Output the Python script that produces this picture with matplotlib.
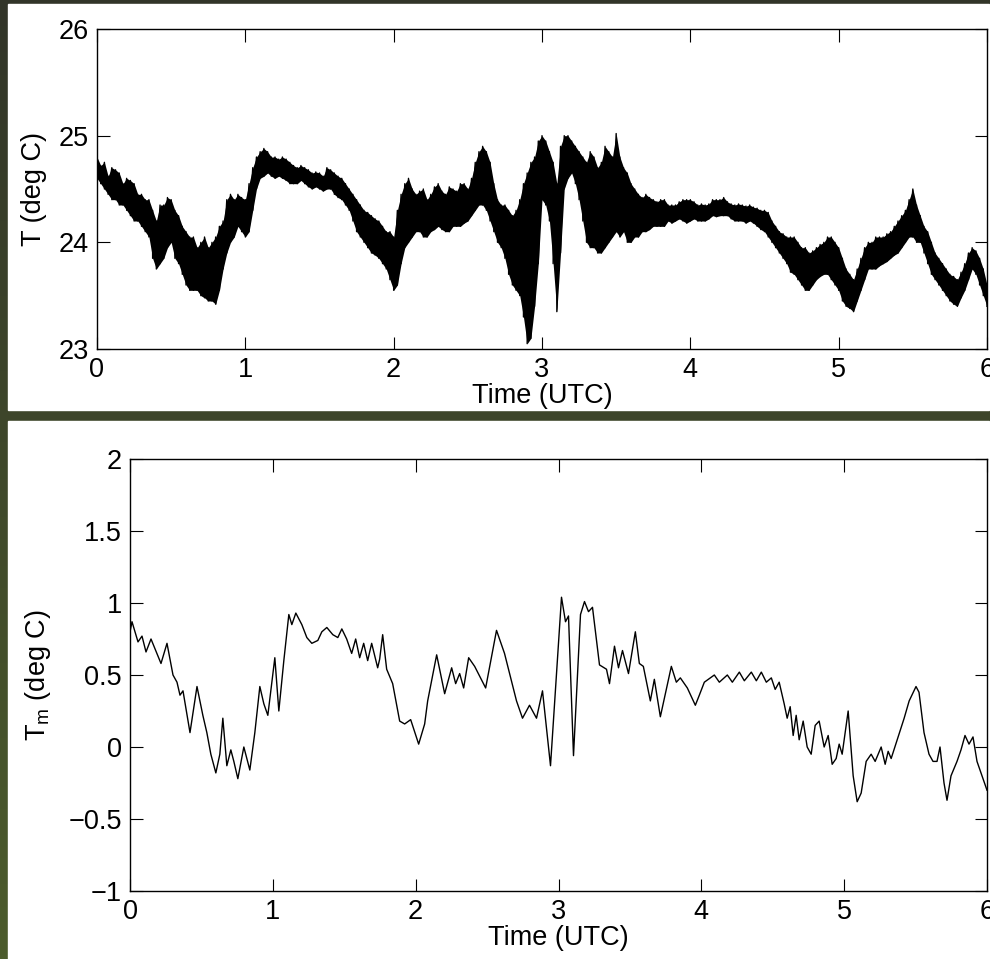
"""
两段温度时间序列：上图为原始温度（高频噪声带），下图为平滑后的 T_m
"""
import numpy as np
import matplotlib
matplotlib.use('Agg')
import matplotlib.pyplot as plt
from matplotlib.patches import Rectangle

plt.rcParams['font.family'] = ['Liberation Sans', 'DejaVu Sans']

# ---- 上图数据：噪声带下沿/上沿 (deg C)，整0.05小时处读取 ----
t_raw = np.linspace(0, 6, 121)
T_lo = [24.60, 24.50, 24.40, 24.35, 24.30, 24.20, 24.15, 24.05, 23.75, 23.85,
        24.00, 23.80, 23.60, 23.55, 23.50, 23.45, 23.42, 23.75, 24.00, 24.15,
        24.05, 24.30, 24.60, 24.65, 24.60, 24.60, 24.55, 24.55, 24.55, 24.50,
        24.50, 24.50, 24.45, 24.40, 24.30, 24.10, 24.00, 23.90, 23.85, 23.75,
        23.55, 23.80, 24.00, 24.10, 24.05, 24.10, 24.15, 24.10, 24.15, 24.15,
        24.20, 24.30, 24.35, 24.20, 24.00, 23.85, 23.60, 23.50, 23.05, 23.40,
        24.40, 24.20, 23.35, 24.50, 24.65, 24.40, 24.00, 23.95, 23.90, 24.00,
        24.10, 24.10, 24.00, 24.05, 24.10, 24.15, 24.15, 24.20, 24.20, 24.20,
        24.20, 24.20, 24.20, 24.25, 24.25, 24.25, 24.20, 24.20, 24.20, 24.15,
        24.10, 24.00, 23.90, 23.80, 23.70, 23.60, 23.55, 23.65, 23.70, 23.65,
        23.55, 23.40, 23.35, 23.55, 23.75, 23.75, 23.80, 23.85, 23.90, 24.00,
        24.05, 24.00, 23.80, 23.65, 23.55, 23.45, 23.40, 23.55, 23.75, 23.60,
        23.40]
T_hi = [24.80, 24.75, 24.70, 24.65, 24.60, 24.55, 24.45, 24.40, 24.20, 24.35,
        24.40, 24.25, 24.10, 24.05, 24.00, 23.95, 24.05, 24.20, 24.45, 24.45,
        24.40, 24.70, 24.85, 24.85, 24.80, 24.80, 24.75, 24.70, 24.70, 24.65,
        24.65, 24.70, 24.65, 24.60, 24.50, 24.40, 24.30, 24.25, 24.20, 24.10,
        24.05, 24.45, 24.60, 24.45, 24.50, 24.45, 24.55, 24.45, 24.50, 24.55,
        24.50, 24.75, 24.90, 24.75, 24.40, 24.35, 24.25, 24.40, 24.65, 24.80,
        25.00, 24.85, 24.55, 25.00, 24.95, 24.85, 24.75, 24.80, 24.75, 24.85,
        25.02, 24.70, 24.55, 24.45, 24.45, 24.40, 24.40, 24.35, 24.35, 24.40,
        24.40, 24.35, 24.35, 24.40, 24.40, 24.38, 24.35, 24.35, 24.35, 24.32,
        24.30, 24.20, 24.10, 24.05, 24.05, 23.95, 23.90, 23.95, 24.00, 24.05,
        23.95, 23.75, 23.65, 23.85, 24.00, 24.05, 24.05, 24.10, 24.20, 24.30,
        24.50, 24.25, 24.10, 23.90, 23.80, 23.70, 23.65, 23.80, 23.95, 23.85,
        23.60]
# 半格处 (0.025, 0.075, ...) 读取
t_mid = np.linspace(0.025, 5.975, 120)
T_lo_mid = [24.55, 24.45, 24.40, 24.35, 24.25, 24.20, 24.10, 23.85, 23.80, 23.95,
            23.85, 23.70, 23.55, 23.55, 23.48, 23.45, 23.55, 23.90, 24.05, 24.10,
            24.10, 24.50, 24.62, 24.62, 24.62, 24.58, 24.55, 24.58, 24.52, 24.52,
            24.48, 24.50, 24.42, 24.35, 24.20, 24.05, 23.95, 23.88, 23.80, 23.65,
            23.60, 23.95, 24.05, 24.10, 24.05, 24.12, 24.12, 24.10, 24.15, 24.18,
            24.25, 24.35, 24.30, 24.10, 23.95, 23.70, 23.55, 23.30, 23.10, 23.80,
            24.35, 23.80, 23.90, 24.60, 24.55, 24.20, 23.95, 23.90, 23.95, 24.05,
            24.05, 24.00, 24.05, 24.10, 24.12, 24.15, 24.15, 24.18, 24.22, 24.18,
            24.22, 24.20, 24.22, 24.24, 24.25, 24.22, 24.20, 24.18, 24.18, 24.12,
            24.05, 23.95, 23.85, 23.72, 23.65, 23.55, 23.60, 23.68, 23.70, 23.60,
            23.45, 23.38, 23.45, 23.65, 23.75, 23.78, 23.82, 23.88, 23.95, 24.05,
            24.00, 23.90, 23.70, 23.60, 23.50, 23.42, 23.48, 23.65, 23.70, 23.50]
T_hi_mid = [24.72, 24.62, 24.68, 24.55, 24.58, 24.45, 24.40, 24.30, 24.35, 24.42,
            24.30, 24.15, 24.05, 23.95, 24.05, 24.00, 24.15, 24.40, 24.40, 24.42,
            24.55, 24.80, 24.88, 24.80, 24.78, 24.78, 24.72, 24.72, 24.68, 24.66,
            24.62, 24.68, 24.62, 24.55, 24.45, 24.35, 24.28, 24.22, 24.15, 24.10,
            24.30, 24.55, 24.50, 24.48, 24.40, 24.52, 24.48, 24.52, 24.48, 24.55,
            24.60, 24.85, 24.85, 24.55, 24.35, 24.30, 24.30, 24.55, 24.75, 24.95,
            24.95, 24.75, 24.90, 25.00, 24.90, 24.80, 24.85, 24.70, 24.90, 24.80,
            24.80, 24.65, 24.50, 24.42, 24.42, 24.38, 24.40, 24.35, 24.38, 24.40,
            24.38, 24.36, 24.36, 24.40, 24.42, 24.36, 24.36, 24.34, 24.33, 24.30,
            24.28, 24.15, 24.08, 24.05, 24.00, 23.95, 23.92, 23.98, 24.05, 24.00,
            23.85, 23.70, 23.75, 23.95, 24.00, 24.05, 24.08, 24.15, 24.25, 24.40,
            24.35, 24.15, 24.00, 23.85, 23.75, 23.68, 23.72, 23.90, 23.92, 23.75]

# ---- 下图数据：T_m (deg C) ----
t_m = [0.000, 0.014, 0.056, 0.084, 0.112, 0.147, 0.217, 0.259, 0.301, 0.329,
       0.350, 0.371, 0.420, 0.469, 0.510, 0.538, 0.566, 0.601, 0.629, 0.650,
       0.678, 0.706, 0.727, 0.755, 0.797, 0.839, 0.874, 0.909, 0.937, 0.965,
       1.014, 1.042, 1.077, 1.112, 1.133, 1.161, 1.203, 1.238, 1.273, 1.315,
       1.343, 1.378, 1.420, 1.455, 1.483, 1.517, 1.552, 1.580, 1.608, 1.636,
       1.664, 1.692, 1.734, 1.748, 1.769, 1.797, 1.839, 1.888, 1.923, 1.965,
       2.021, 2.063, 2.084, 2.147, 2.203, 2.252, 2.280, 2.308, 2.336, 2.371,
       2.413, 2.490, 2.566, 2.622, 2.706, 2.748, 2.797, 2.846, 2.888, 2.944,
       3.021, 3.049, 3.070, 3.105, 3.154, 3.182, 3.210, 3.238, 3.287, 3.336,
       3.357, 3.392, 3.420, 3.448, 3.490, 3.538, 3.566, 3.594, 3.643, 3.671,
       3.713, 3.790, 3.825, 3.853, 3.902, 3.958, 3.986, 4.021, 4.091, 4.126,
       4.182, 4.217, 4.266, 4.301, 4.350, 4.385, 4.420, 4.455, 4.490, 4.517,
       4.545, 4.580, 4.601, 4.622, 4.643, 4.664, 4.685, 4.713, 4.741, 4.769,
       4.797, 4.825, 4.860, 4.888, 4.916, 4.944, 4.965, 4.986, 5.028, 5.063,
       5.091, 5.119, 5.154, 5.189, 5.217, 5.259, 5.287, 5.308, 5.329, 5.371,
       5.420, 5.455, 5.503, 5.524, 5.559, 5.594, 5.622, 5.650, 5.671, 5.699,
       5.720, 5.748, 5.790, 5.818, 5.846, 5.874, 5.902, 5.930, 5.958, 6.000]
Tm = [0.80, 0.87, 0.73, 0.77, 0.66, 0.75, 0.58, 0.72, 0.50, 0.45,
      0.36, 0.39, 0.10, 0.42, 0.22, 0.10, -0.05, -0.18, -0.05, 0.20,
      -0.13, -0.02, -0.10, -0.22, 0.00, -0.16, 0.10, 0.42, 0.30, 0.22,
      0.62, 0.25, 0.60, 0.92, 0.85, 0.93, 0.85, 0.76, 0.72, 0.74,
      0.80, 0.83, 0.78, 0.76, 0.82, 0.75, 0.65, 0.75, 0.62, 0.72,
      0.60, 0.72, 0.55, 0.61, 0.78, 0.54, 0.44, 0.18, 0.16, 0.19,
      0.02, 0.16, 0.32, 0.64, 0.37, 0.55, 0.44, 0.51, 0.41, 0.62,
      0.56, 0.41, 0.81, 0.65, 0.32, 0.20, 0.29, 0.20, 0.39, -0.13,
      1.04, 0.87, 0.91, -0.06, 0.92, 1.01, 0.94, 0.97, 0.57, 0.54,
      0.44, 0.70, 0.55, 0.67, 0.51, 0.80, 0.58, 0.56, 0.32, 0.47,
      0.21, 0.56, 0.45, 0.48, 0.41, 0.29, 0.36, 0.45, 0.50, 0.45,
      0.50, 0.45, 0.52, 0.46, 0.52, 0.46, 0.52, 0.45, 0.48, 0.40,
      0.45, 0.30, 0.20, 0.28, 0.08, 0.22, 0.05, 0.18, 0.00, -0.05,
      0.15, 0.18, 0.00, 0.08, -0.12, -0.08, 0.02, -0.05, 0.25, -0.20,
      -0.38, -0.32, -0.10, -0.05, -0.10, 0.00, -0.12, -0.03, -0.08, 0.05,
      0.20, 0.32, 0.42, 0.38, 0.10, -0.05, -0.10, -0.10, 0.00, -0.25,
      -0.37, -0.20, -0.10, -0.02, 0.08, 0.02, 0.07, -0.10, -0.18, -0.30]

W, H = 990, 959
FS = 19.5

fig = plt.figure(figsize=(W / 100, H / 100), dpi=100)

# 背景：深色到橄榄绿的竖直渐变
bg = fig.add_axes([0, 0, 1, 1], zorder=-10)
top_c = np.array([0x32, 0x35, 0x29]) / 255
bot_c = np.array([0x4c, 0x5c, 0x2d]) / 255
grad = np.linspace(0, 1, 256)[:, None, None]
img = top_c * (1 - grad) + bot_c * grad
bg.imshow(img, aspect='auto', extent=[0, 1, 0, 1])
# 两块白色面板
bg.add_patch(Rectangle((8 / W, 1 - 410 / H), 981 / W, 406 / H, color='white'))
bg.add_patch(Rectangle((8 / W, 0), 981 / W, 1 - 421 / H, color='white'))
bg.set_xlim(0, 1)
bg.set_ylim(0, 1)
bg.axis('off')


def style_axes(ax):
    ax.tick_params(direction='in', length=9, width=0.8, top=True, right=True,
                   labelsize=FS, pad=6)
    for s in ax.spines.values():
        s.set_linewidth(1.0)
    ax.set_facecolor('white')


# 合并整格与半格读数
t_all = np.concatenate([t_raw, t_mid])
order = np.argsort(t_all)
t_all = t_all[order]
lo_all = np.concatenate([T_lo, T_lo_mid])[order]
hi_all = np.concatenate([T_hi, T_hi_mid])[order]

# 上图
ax1 = fig.add_axes([97 / W, 1 - 349 / H, 890 / W, 320 / H])
ax1.fill_between(t_all, lo_all, hi_all, color='black', lw=0)
zig_t = np.repeat(t_all, 2)
zig_T = np.column_stack([hi_all, lo_all]).ravel()
ax1.plot(zig_t, zig_T, color='black', lw=1.0)
ax1.set_xlim(0, 6)
ax1.set_ylim(23, 26)
ax1.set_yticks([23, 24, 25, 26])
ax1.set_xticks(range(7))
ax1.set_xlabel('Time (UTC)', fontsize=FS, labelpad=0)
ax1.set_ylabel('T (deg C)', fontsize=FS, labelpad=8)
style_axes(ax1)

# 下图
ax2 = fig.add_axes([130 / W, 1 - 891 / H, 857 / W, 432 / H])
ax2.plot(t_m, Tm, color='black', lw=1.0)
ax2.set_xlim(0, 6)
ax2.set_ylim(-1, 2)
ax2.set_yticks([-1, -0.5, 0, 0.5, 1, 1.5, 2])
ax2.set_yticklabels(['\u22121', '\u22120.5', '0', '0.5', '1', '1.5', '2'])
ax2.set_xticks(range(7))
ax2.set_xlabel('Time (UTC)', fontsize=FS, labelpad=0)
ax2.set_ylabel(r'$\mathregular{T_m}$ (deg C)', fontsize=FS, labelpad=11)
style_axes(ax2)

fig.savefig('out.png', dpi=100)
plt.close(fig)
